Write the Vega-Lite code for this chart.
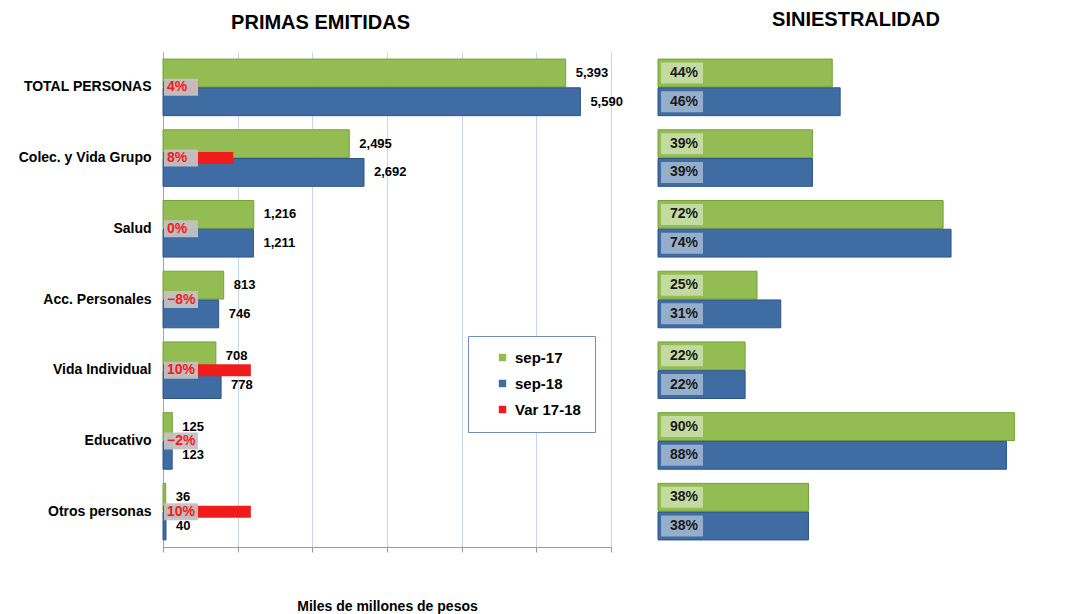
{
  "$schema": "https://vega.github.io/schema/vega-lite/v6.json",
  "background": "white",
  "padding": {"left": 18, "top": 10, "right": 0, "bottom": 0},
  "spacing": 47,
  "bounds": "flush",
  "config": {
    "font": "Liberation Sans",
    "view": {"stroke": null},
    "title": {"color": "#000000", "fontWeight": "bold"}
  },
  "datasets": {
    "primas": [
      {"cat": "TOTAL PERSONAS", "serie": "sep-17", "primas": 5393, "sin": 0.44},
      {"cat": "TOTAL PERSONAS", "serie": "sep-18", "primas": 5590, "sin": 0.46},
      {"cat": "Colec. y Vida Grupo", "serie": "sep-17", "primas": 2495, "sin": 0.39},
      {"cat": "Colec. y Vida Grupo", "serie": "sep-18", "primas": 2692, "sin": 0.39},
      {"cat": "Salud", "serie": "sep-17", "primas": 1216, "sin": 0.72},
      {"cat": "Salud", "serie": "sep-18", "primas": 1211, "sin": 0.74},
      {"cat": "Acc. Personales", "serie": "sep-17", "primas": 813, "sin": 0.25},
      {"cat": "Acc. Personales", "serie": "sep-18", "primas": 746, "sin": 0.31},
      {"cat": "Vida Individual", "serie": "sep-17", "primas": 708, "sin": 0.22},
      {"cat": "Vida Individual", "serie": "sep-18", "primas": 778, "sin": 0.22},
      {"cat": "Educativo", "serie": "sep-17", "primas": 125, "sin": 0.90},
      {"cat": "Educativo", "serie": "sep-18", "primas": 123, "sin": 0.88},
      {"cat": "Otros personas", "serie": "sep-17", "primas": 36, "sin": 0.38},
      {"cat": "Otros personas", "serie": "sep-18", "primas": 40, "sin": 0.38}
    ],
    "variacion": [
      {"cat": "TOTAL PERSONAS", "var": 0.04},
      {"cat": "Colec. y Vida Grupo", "var": 0.08},
      {"cat": "Salud", "var": -0.004},
      {"cat": "Acc. Personales", "var": -0.08},
      {"cat": "Vida Individual", "var": 0.10},
      {"cat": "Educativo", "var": -0.02},
      {"cat": "Otros personas", "var": 0.10}
    ]
  },
  "hconcat": [
    {
      "width": 448,
      "height": 495,
      "title": {"text": "PRIMAS EMITIDAS", "fontSize": 20, "frame": "bounds", "anchor": "middle", "offset": 19},
      "resolve": {"scale": {"x": "independent"}},
      "layer": [
        {
          "data": {"name": "primas"},
          "mark": {"type": "bar", "strokeWidth": 1},
          "encoding": {
            "y": {
              "field": "cat", "type": "nominal",
              "scale": {"domain": ["TOTAL PERSONAS", "Colec. y Vida Grupo", "Salud", "Acc. Personales", "Vida Individual", "Educativo", "Otros personas"], "paddingInner": 0.2, "paddingOuter": 0.1},
              "axis": {"title": null, "ticks": false, "domain": true, "domainColor": "#a6a6a6", "labelFontSize": 14, "labelFontWeight": "bold", "labelColor": "#000000", "labelPadding": 12, "labelLimit": 250}
            },
            "yOffset": {"field": "serie", "type": "nominal", "scale": {"domain": ["sep-17", "sep-18"], "paddingInner": 0.03}},
            "x": {
              "field": "primas", "type": "quantitative",
              "scale": {"domain": [0, 6000], "nice": false},
              "axis": {"values": [0, 1000, 2000, 3000, 4000, 5000, 6000], "labels": false, "grid": true, "gridColor": "#c8d5e6", "domainColor": "#9a9a9a", "tickColor": "#9a9a9a", "tickSize": 5, "title": "Miles de millones de pesos", "titleFontSize": 14, "titleFontWeight": "bold", "titleColor": "#000000", "titlePadding": 47}
            },
            "color": {
              "field": "serie", "type": "nominal",
              "scale": {"domain": ["sep-17", "sep-18", "Var 17-18"], "range": ["#93bc52", "#3f6ca3", "#f01c1c"]},
              "legend": {"title": null, "orient": "none", "legendX": 305, "legendY": 284, "strokeColor": "#6f8fbd", "fillColor": "white", "padding": 14, "symbolType": "square", "symbolSize": 55, "symbolOffset": 13, "labelOffset": 5, "labelFontSize": 15, "labelFontWeight": "bold", "labelColor": "#000000", "rowPadding": 10, "labelExpr": "datum.label + '\u00a0\u00a0\u00a0\u00a0\u00a0'"}
            },
            "stroke": {
              "field": "serie", "type": "nominal",
              "scale": {"domain": ["sep-17", "sep-18"], "range": ["#77a03a", "#2f5486"]},
              "legend": null
            }
          }
        },
        {
          "data": {"name": "primas"},
          "mark": {"type": "text", "align": "left", "dx": 10, "fontSize": 13, "fontWeight": "bold", "color": "#000000"},
          "encoding": {
            "y": {"field": "cat", "type": "nominal"},
            "yOffset": {"field": "serie", "type": "nominal"},
            "x": {"field": "primas", "type": "quantitative", "scale": {"domain": [0, 6000], "nice": false}, "axis": null},
            "text": {"field": "primas", "type": "quantitative", "format": ",.0f"}
          }
        },
        {
          "data": {"name": "variacion"},
          "mark": {"type": "bar", "height": 12, "clip": true},
          "encoding": {
            "y": {"field": "cat", "type": "nominal"},
            "x": {"field": "var", "type": "quantitative", "scale": {"domain": [0, 0.51], "nice": false}, "axis": null},
            "color": {"datum": "Var 17-18"}
          }
        },
        {
          "data": {"name": "variacion"},
          "mark": {"type": "point", "shape": "M-1,-0.5L1,-0.5L1,0.5L-1,0.5Z", "filled": true, "size": 1156, "color": "#c2c2c2", "opacity": 0.95, "xOffset": 18},
          "encoding": {
            "y": {"field": "cat", "type": "nominal"},
            "x": {"datum": 0, "type": "quantitative", "scale": {"domain": [0, 1], "nice": false}, "axis": null}
          }
        },
        {
          "data": {"name": "variacion"},
          "mark": {"type": "text", "align": "left", "dx": 4, "fontSize": 14, "fontWeight": "bold", "color": "#f01c1c"},
          "encoding": {
            "y": {"field": "cat", "type": "nominal"},
            "x": {"datum": 0, "type": "quantitative", "scale": {"domain": [0, 1], "nice": false}, "axis": null},
            "text": {"field": "var", "type": "quantitative", "format": ".0%"}
          }
        }
      ]
    },
    {
      "width": 396,
      "height": 495,
      "title": {"text": "SINIESTRALIDAD", "fontSize": 20, "frame": "group", "anchor": "middle", "offset": 22},
      "data": {"name": "primas"},
      "layer": [
        {
          "mark": {"type": "bar", "strokeWidth": 1},
          "encoding": {
            "y": {
              "field": "cat", "type": "nominal",
              "scale": {"domain": ["TOTAL PERSONAS", "Colec. y Vida Grupo", "Salud", "Acc. Personales", "Vida Individual", "Educativo", "Otros personas"], "paddingInner": 0.2, "paddingOuter": 0.1},
              "axis": null
            },
            "yOffset": {"field": "serie", "type": "nominal", "scale": {"domain": ["sep-17", "sep-18"], "paddingInner": 0.03}},
            "x": {"field": "sin", "type": "quantitative", "scale": {"domain": [0, 1], "nice": false}, "axis": null},
            "color": {"field": "serie", "type": "nominal"},
            "stroke": {"field": "serie", "type": "nominal", "legend": null}
          }
        },
        {
          "mark": {"type": "point", "shape": "M-1,-0.5L1,-0.5L1,0.5L-1,0.5Z", "filled": true, "size": 1764, "color": "#ffffff", "opacity": 0.45, "xOffset": 24},
          "encoding": {
            "y": {"field": "cat", "type": "nominal"},
            "yOffset": {"field": "serie", "type": "nominal"},
            "x": {"datum": 0, "type": "quantitative"}
          }
        },
        {
          "mark": {"type": "text", "align": "center", "dx": 26, "fontSize": 14, "fontWeight": "bold", "color": "#1a1a1a"},
          "encoding": {
            "y": {"field": "cat", "type": "nominal"},
            "yOffset": {"field": "serie", "type": "nominal"},
            "x": {"datum": 0, "type": "quantitative"},
            "text": {"field": "sin", "type": "quantitative", "format": ".0%"}
          }
        }
      ]
    }
  ]
}
